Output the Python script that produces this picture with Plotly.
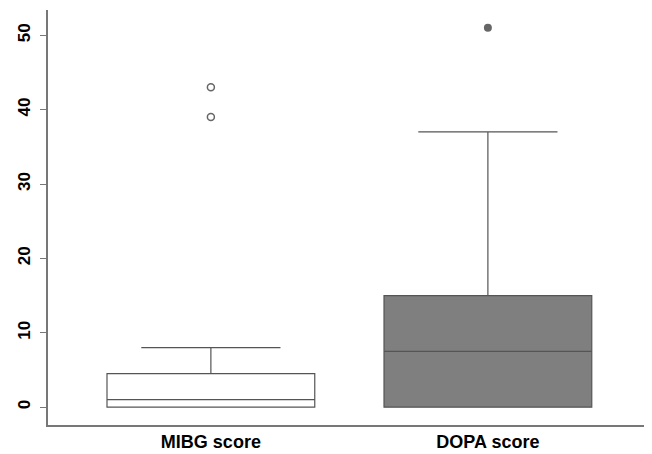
import plotly.graph_objects as go

categories = ["MIBG score", "DOPA score"]
q1 = [0, 0]
medians = [1, 7.5]
q3 = [4.5, 15]
lower_fence = [0, 0]
upper_fence = [8, 37]
outlier_cat = ["MIBG score", "MIBG score", "DOPA score"]
outlier_vals = [43, 39, 51]
y_ticks = [0, 10, 20, 30, 40, 50]

fills = ["#ffffff", "#7f7f7f"]
line_col = "#555555"

fig = go.Figure()
for i, c in enumerate(categories):
    fig.add_trace(go.Box(
        x=[c], q1=[q1[i]], median=[medians[i]], q3=[q3[i]],
        lowerfence=[lower_fence[i]], upperfence=[upper_fence[i]],
        fillcolor=fills[i], line=dict(color=line_col, width=1.2),
        width=0.75, whiskerwidth=0.67, boxpoints=False, showlegend=False,
        hoverinfo="skip",
    ))

fig.add_trace(go.Scatter(
    x=outlier_cat[:2], y=outlier_vals[:2], mode="markers",
    marker=dict(symbol="circle-open", size=7, color="#666666", line=dict(width=1.5)),
    showlegend=False,
))
fig.add_trace(go.Scatter(
    x=outlier_cat[2:], y=outlier_vals[2:], mode="markers",
    marker=dict(symbol="circle", size=8, color="#666666"),
    showlegend=False,
))

fig.update_layout(
    width=644, height=446,
    margin=dict(l=40, r=4, t=2, b=29, autoexpand=False),
    plot_bgcolor="white", paper_bgcolor="white",
    font=dict(family="Liberation Sans, Arial, sans-serif", color="black"),
)
fig.update_xaxes(
    type="category", categoryorder="array", categoryarray=categories,
    range=[-0.588, 1.578], showline=True, linecolor="#777777", linewidth=1.5,
    ticks="", showgrid=False, zeroline=False, automargin=False,
    tickfont=dict(size=18, weight="bold", color="black"),
)
fig.update_yaxes(
    range=[-2.4, 53.4], tickvals=y_ticks, ticktext=[str(v) for v in y_ticks],
    tickangle=-90, ticks="outside", ticklen=6, tickcolor="#777777",
    ticklabelstandoff=3,
    showline=True, linecolor="#777777", linewidth=1.5,
    showgrid=False, zeroline=False, automargin=False,
    tickfont=dict(size=17, weight="bold", color="black"),
)

fig.write_html("out.html")
